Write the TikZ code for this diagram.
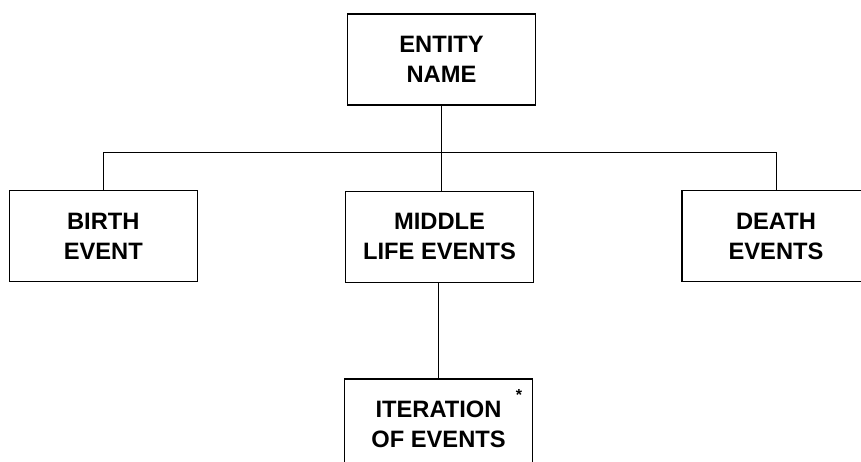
\documentclass[tikz,border=0pt]{standalone}
\usepackage{fontspec}
\setmainfont{Liberation Sans}
\begin{document}
\begin{tikzpicture}[x=1pt,y=-1pt,
  box/.style={draw, line width=1.3pt, minimum width=188pt, minimum height=91pt, inner sep=0pt,
    align=center, font=\fontsize{23.7pt}{30pt}\selectfont\bfseries},
  link/.style={draw, line width=0.9pt}]
\fill[white] (0,0) rectangle (861,461);
\useasboundingbox (0,0) rectangle (861,461);
\clip (0,0) rectangle (861,461);
\node[box] (entity) at (441.5,59.5) {ENTITY\\NAME};
\node[box] (birth) at (103.3,236.2) {BIRTH\\EVENT};
\node[box] (middle) at (439.5,236.7) {MIDDLE\\LIFE EVENTS};
\node[box] (death) at (776,236.2) {DEATH\\EVENTS};
\node[box] (iter) at (438.5,424.5) {ITERATION\\OF EVENTS};
\node[font=\fontsize{16pt}{18pt}\selectfont\bfseries, inner sep=0pt] (star) at (519,395) {*};
\coordinate (bar) at (0,152.5);
\draw[link] (entity.south) -- (entity.south |- middle.north);
\draw[link] (birth.north) -- (birth.north |- bar) -- (death.north |- bar) -- (death.north);
\draw[link] (iter.north |- middle.south) -- (iter.north);
\end{tikzpicture}
\end{document}
